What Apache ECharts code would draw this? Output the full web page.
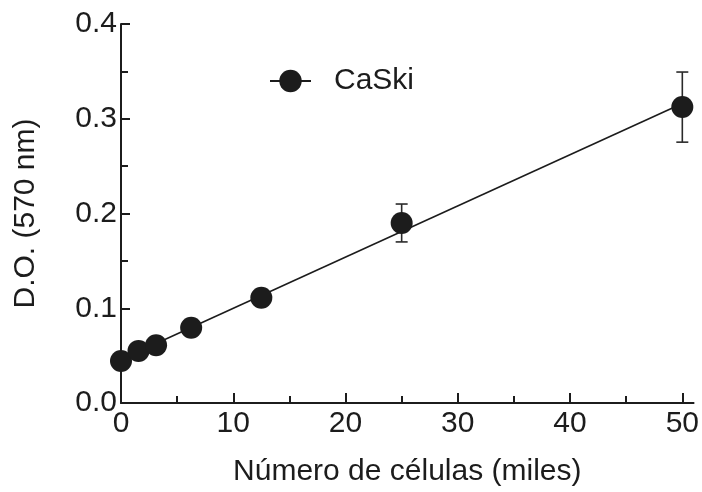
<!DOCTYPE html>
<html>
<head>
<meta charset="utf-8">
<script src="https://cdn.jsdelivr.net/npm/echarts@6/dist/echarts.min.js"></script>
<style>
  html, body { margin: 0; padding: 0; background: #fff; }
  #chart { width: 702px; height: 492px; }
</style>
</head>
<body>
<div id="chart"></div>
<script>
// Cell number (thousands) vs optical density at 570 nm
const cells = [0, 1.5625, 3.125, 6.25, 12.5, 25, 50];
const od = [0.0444, 0.055, 0.061, 0.0795, 0.111, 0.190, 0.3123];
const odErr = [0, 0, 0, 0, 0, 0.020, 0.037];
const xMajorTicks = [0, 10, 20, 30, 40, 50];
const xMinorTicks = [5, 15, 25, 35, 45];

// Least-squares fit line through the measurements
const n = cells.length;
const mx = cells.reduce((a, b) => a + b, 0) / n;
const my = od.reduce((a, b) => a + b, 0) / n;
let sxy = 0, sxx = 0;
for (let i = 0; i < n; i++) {
  sxy += (cells[i] - mx) * (od[i] - my);
  sxx += (cells[i] - mx) * (cells[i] - mx);
}
const slope = sxy / sxx;
const intercept = my - slope * mx;
const xFirst = cells[0], xLast = cells[n - 1];
const fitLine = [[xFirst, intercept + slope * xFirst], [xLast, intercept + slope * xLast]];

const ink = '#1c1c1c';
const font = 'Liberation Sans, Arial, sans-serif';

const chart = echarts.init(document.getElementById('chart'), null, { renderer: 'canvas' });
chart.setOption({
  animation: false,
  backgroundColor: '#fff',
  grid: { left: 121, right: 7, top: 24, bottom: 87 },
  legend: {
    left: 264, top: 61,
    itemWidth: 41, itemHeight: 28,
    data: ['CaSki'],
    textStyle: { fontFamily: font, fontSize: 30, color: ink, padding: [0, 0, 0, 18] },
    lineStyle: { color: ink, width: 2, opacity: 1 },
    itemStyle: { color: ink }
  },
  xAxis: [{
    type: 'value', min: 0, max: 51,
    name: 'Número de células (miles)',
    nameLocation: 'middle', nameGap: 54,
    nameTextStyle: { fontFamily: font, fontSize: 30, color: ink },
    axisLine: { lineStyle: { color: ink, width: 2 } },
    axisTick: { inside: true, length: 10, customValues: xMajorTicks, lineStyle: { color: ink, width: 2 } },
    axisLabel: { customValues: xMajorTicks, margin: 6, fontFamily: font, fontSize: 30, color: ink },
    splitLine: { show: false }
  }, {
    type: 'value', min: 0, max: 51, position: 'bottom',
    axisLine: { show: false },
    axisTick: { inside: true, length: 7, customValues: xMinorTicks, lineStyle: { color: ink, width: 2 } },
    axisLabel: { show: false },
    splitLine: { show: false }
  }],
  yAxis: {
    type: 'value', min: 0, max: 0.4, interval: 0.1,
    name: 'D.O. (570 nm)',
    nameLocation: 'middle', nameGap: 80,
    nameTextStyle: { fontFamily: font, fontSize: 30, color: ink },
    axisLine: { show: true, lineStyle: { color: ink, width: 2 } },
    axisTick: { show: true, inside: true, length: 9, lineStyle: { color: ink, width: 2 } },
    minorTick: { show: true, splitNumber: 2, length: 7, lineStyle: { color: ink, width: 2 } },
    axisLabel: { margin: 4, fontFamily: font, fontSize: 30, color: ink, formatter: v => v.toFixed(1) },
    splitLine: { show: false }
  },
  series: [{
    type: 'line',
    data: fitLine,
    showSymbol: false,
    symbol: 'none',
    lineStyle: { color: ink, width: 1.6 },
    silent: true,
    z: 1
  }, {
    type: 'custom',
    data: cells.map((x, i) => [x, od[i] - odErr[i], od[i] + odErr[i]]),
    renderItem: function (params, api) {
      const x = api.value(0);
      const lo = api.coord([x, api.value(1)]);
      const hi = api.coord([x, api.value(2)]);
      const cap = 6;
      const style = { stroke: '#2a2a2a', lineWidth: 1.6 };
      return {
        type: 'group',
        children: [
          { type: 'line', shape: { x1: lo[0], y1: lo[1], x2: hi[0], y2: hi[1] }, style: style },
          { type: 'line', shape: { x1: lo[0] - cap, y1: lo[1], x2: lo[0] + cap, y2: lo[1] }, style: style },
          { type: 'line', shape: { x1: hi[0] - cap, y1: hi[1], x2: hi[0] + cap, y2: hi[1] }, style: style }
        ]
      };
    },
    z: 2
  }, {
    name: 'CaSki',
    type: 'line',
    data: cells.map((x, i) => [x, od[i]]),
    symbol: 'circle',
    symbolSize: 22,
    itemStyle: { color: ink },
    lineStyle: { width: 0, opacity: 0 },
    z: 3
  }]
});
</script>
</body>
</html>
